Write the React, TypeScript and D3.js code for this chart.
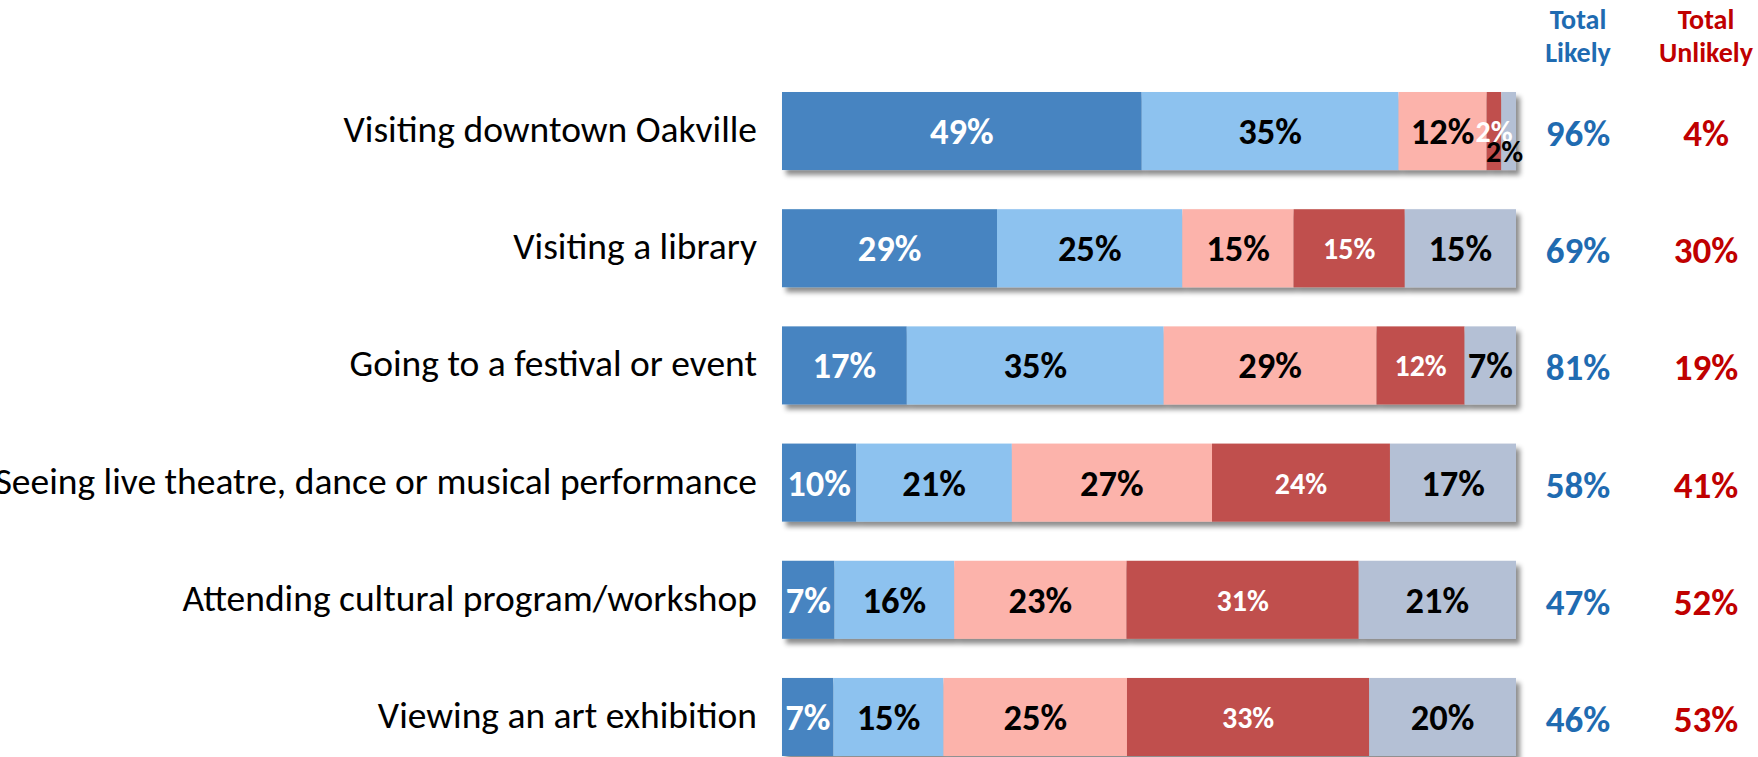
import React from "react";
import * as d3 from "d3";

const categories = [
  "Visiting downtown Oakville",
  "Visiting a library",
  "Going to a festival or event",
  "Seeing live theatre, dance or musical performance",
  "Attending cultural program/workshop",
  "Viewing an art exhibition",
];
const seriesKeys = ["veryLikely", "somewhatLikely", "somewhatUnlikely", "veryUnlikely", "other"];
const veryLikely = [49, 29, 17, 10, 7, 7];
const somewhatLikely = [35, 25, 35, 21, 16, 15];
const somewhatUnlikely = [12, 15, 29, 27, 23, 25];
const veryUnlikely = [2, 15, 12, 24, 31, 33];
const other = [2, 15, 7, 17, 21, 20];
const totalLikely = [96, 69, 81, 58, 47, 46];
const totalUnlikely = [4, 30, 19, 41, 52, 53];

const colors = ["#4684C1", "#8DC2EF", "#FCB3AB", "#C0504D", "#B4C0D5"];
const labelColors = ["#FFFFFF", "#000000", "#000000", "#FFFFFF", "#000000"];
const FONT = "Carlito, Lato, 'Open Sans', sans-serif";

export default function App() {
  const rows = categories.map((c, i) => ({
    category: c,
    veryLikely: veryLikely[i],
    somewhatLikely: somewhatLikely[i],
    somewhatUnlikely: somewhatUnlikely[i],
    veryUnlikely: veryUnlikely[i],
    other: other[i],
  }));
  const stack = d3.stack<any>().keys(seriesKeys).offset(d3.stackOffsetExpand);
  const series = stack(rows);

  const x = d3.scaleLinear().domain([0, 1]).range([782, 1516]);
  const y = d3
    .scaleBand<string>()
    .domain(categories)
    .range([92, 756])
    .paddingInner(0.334)
    .paddingOuter(0);
  const bh = y.bandwidth();

  return (
    <svg
      width={1758}
      height={757}
      style={{ position: "absolute", left: 0, top: 0, background: "#fff" }}
      fontFamily={FONT}
    >
      <defs>
        <filter id="shadow" x="-5%" y="-20%" width="115%" height="150%">
          <feDropShadow dx="4" dy="5" stdDeviation="2.5" floodColor="#000" floodOpacity="0.45" />
        </filter>
      </defs>

      {/* headers */}
      <g fontWeight="bold" fontSize={28} textAnchor="middle">
        <text x={1578} y={29} fill="#1F6BB1">Total</text>
        <text x={1578} y={62} fill="#1F6BB1">Likely</text>
        <text x={1706} y={29} fill="#C00000">Total</text>
        <text x={1706} y={62} fill="#C00000">Unlikely</text>
      </g>

      {/* category labels */}
      <g fontSize={37.5} textAnchor="end" fill="#000">
        {categories.map((c) => (
          <text key={c} x={757} y={(y(c) as number) + bh / 2 + 11}>
            {c}
          </text>
        ))}
      </g>

      {/* bars */}
      {categories.map((c, i) => (
        <g key={c} filter="url(#shadow)">
          {series.map((s, k) => (
            <rect
              key={k}
              x={x(s[i][0])}
              y={y(c) as number}
              width={Math.max(0, x(s[i][1]) - x(s[i][0]))}
              height={bh}
              fill={colors[k]}
            />
          ))}
        </g>
      ))}

      {/* segment labels */}
      {categories.map((c, i) =>
        series.map((s, k) => {
          const v = [veryLikely, somewhatLikely, somewhatUnlikely, veryUnlikely, other][k][i];
          const cx = (x(s[i][0]) + x(s[i][1])) / 2;
          const moved = i === 0 && k === 4;
          const small = k === 3 || moved;
          return (
            <text
              key={c + k}
              x={cx + (moved ? -4 : 0)}
              y={(y(c) as number) + bh / 2 + (small ? 11 : 13) + (moved ? 20 : 0)}
              textAnchor="middle"
              fontSize={small ? 30 : 36.5}
              fontWeight="bold"
              fill={labelColors[k]}
            >
              {v}%
            </text>
          );
        })
      )}

      {/* totals */}
      <g fontWeight="bold" fontSize={37} textAnchor="middle">
        {categories.map((c, i) => (
          <g key={c}>
            <text x={1578} y={(y(c) as number) + bh / 2 + 15} fill="#1F6BB1">
              {totalLikely[i]}%
            </text>
            <text x={1706} y={(y(c) as number) + bh / 2 + 15} fill="#C00000">
              {totalUnlikely[i]}%
            </text>
          </g>
        ))}
      </g>
    </svg>
  );
}
